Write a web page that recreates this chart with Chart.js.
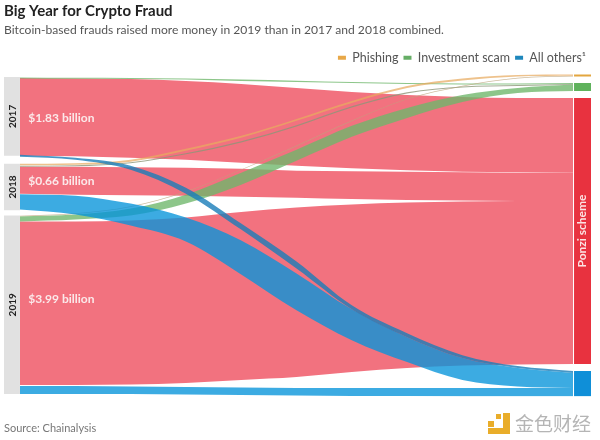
<!DOCTYPE html>
<html><head><meta charset="utf-8">
<style>html,body{margin:0;padding:0;background:#fff}canvas{display:block}</style>
<script src="https://cdn.jsdelivr.net/npm/chart.js@4"></script>
</head><body><canvas id="c" width="600" height="440"></canvas>
<script>
// Flow edges: distance down the diagram at each station across it.
const stations = [0,10,20,30,40,50,60,70,80,90,100];
const ponzi2017Top    = [4,4.5,5,7,10,14,18,21,23,24,24];
const ponzi2017Bottom = [82,82.5,84,86,89,92,94.5,96.5,98,98.5,99];
const ponzi2018Top    = [93,93,93.5,94,95,97,97.5,98,98.5,99,99];
const ponzi2018Bottom = [120,121,121.5,122,123,124,125.5,126.5,127,127.5,127.5];
const ponzi2019Top    = [148,148,147,144,138.5,134,131,129,128,127.5,127.5];
const ponzi2019Bottom = [312,312,311.5,310,307,304,299,295,292.5,291.5,291];
const phishing2018Top    = [90,89.5,86,75,62,45,27,12,4.5,1,0.5];
const phishing2018Bottom = [91.5,91,88,77,64,47,29,14,6.5,2.5,1.8];
const phishing2019Top    = [142.2,139.7,132.7,117.7,95.7,71.7,46.7,24.7,11.7,3.7,1.8];
const phishing2019Bottom = [143,140.4,133.4,118.4,96.4,72.4,47.4,25.4,12.4,4.4,2.5];
const scam2017Top    = [3.5,3.8,4,4.5,5.5,6.7,8,9,9.5,9.5,9];
const scam2017Bottom = [4.5,4.8,5,5.5,7,8,9,10,10.5,10.5,10];
const scam2018Top    = [92,91.4,88.4,79.4,67.4,51.4,32.4,18.4,12.4,10.9,10];
const scam2018Bottom = [93,92.6,89.6,80.6,68.6,52.6,33.6,19.6,13.6,12.1,10.7];
const scam2019Top    = [143,141,135,121,99,76,52,34,21,14,10.5];
const scam2019Bottom = [148,146,142,130,111,87,63,44,28,19,17];
const others2017Top    = [81,84,92,114,150,188,232,260,282,293,298];
const others2017Bottom = [83,86,96,120,156,195,236,264,285,295,300];
const others2018Top    = [120.5,122,130,144,167,200,236,264,285,295,300];
const others2018Bottom = [136,141,152,168,201,237,267,289,307,313.5,315];
const others2019Top    = [313,313,313.5,314,314.5,315,315,315,315,315,315];
const others2019Bottom = [321,321,321,321.5,322,322.5,323,323,323.5,323.5,323.5];

const years = ['2017','2018','2019'];
const yearTotals = ['$1.83 billion','$0.66 billion','$3.99 billion'];
const yearTotalRows = [44,107,226];
const yearNodeTops = [3,90,142];
const yearNodeBottoms = [82,136.7,321];
const typeNames = ['Phishing','Investment scam','All others¹'];
const typeNodeTops = [0.5,9,24,298];
const typeNodeBottoms = [2.5,17,291,323.5];

const PINK='#f2727f', BLUE='rgba(7,148,218,0.79)', SLATE='rgba(25,125,185,0.8)', GREEN='rgba(110,183,107,0.79)', TAN='rgba(232,170,95,0.72)', TANLINE='rgba(190,165,125,0.75)';
const XMIN=-2.89, XMAX=103.25, RIGHT_NODE=100.18;
const pts = ys => ys.map((y,i)=>({x:stations[i],y}));
const datasets=[];
function band(label,top,bottom,color){
  datasets.push({label,data:top,fill:'+1',backgroundColor:color,borderWidth:0,pointRadius:0,cubicInterpolationMode:'monotone'});
  datasets.push({label:label+' edge',data:bottom,fill:false,borderWidth:0,pointRadius:0,cubicInterpolationMode:'monotone'});
}
function node(label,x0,x1,t,b,color){
  band(label,[{x:x0,y:t},{x:x1,y:t}],[{x:x0,y:b},{x:x1,y:b}],color);
}
years.forEach((y,i)=>node('Node '+y,XMIN,0,yearNodeTops[i],yearNodeBottoms[i],'#e1e1e1'));
band('Ponzi 2017',pts(ponzi2017Top),pts(ponzi2017Bottom),PINK);
band('Ponzi 2018',pts(ponzi2018Top),pts(ponzi2018Bottom),PINK);
band('Ponzi 2019',pts(ponzi2019Top),pts(ponzi2019Bottom),PINK);
band('Scam 2017',pts(scam2017Top),pts(scam2017Bottom),GREEN);
band('Scam 2018',pts(scam2018Top),pts(scam2018Bottom),'rgba(140,150,120,0.8)');
band('Phishing 2019',pts(phishing2019Top),pts(phishing2019Bottom),TANLINE);
band('Phishing 2018',pts(phishing2018Top),pts(phishing2018Bottom),TAN);
band('Scam 2019',pts(scam2019Top),pts(scam2019Bottom),GREEN);
band('Others 2018',pts(others2018Top),pts(others2018Bottom),BLUE);
band('Others 2017',pts(others2017Top),pts(others2017Bottom),SLATE);
band('Others 2019',pts(others2019Top),pts(others2019Bottom),BLUE);
const nodeColors=['#e3a63f','#5fb25c','#e8323f','#0f8fd8'];
['Phishing','Investment','Ponzi scheme','Others'].forEach((n,i)=>node('Type '+n,RIGHT_NODE,XMAX,typeNodeTops[i],typeNodeBottoms[i],nodeColors[i]));
const legendColors=['#e8a848','#66ae66','#1e87bc'];
typeNames.forEach((n,i)=>datasets.push({label:n,data:[],backgroundColor:legendColors[i],borderWidth:0,pointRadius:0,fill:false}));
datasets.forEach((d,i)=>d.order=-i);

const notes={id:'notes',afterDraw(ch){
  const {ctx,scales:{x,y}}=ch;
  ctx.save();ctx.textBaseline='middle';
  const rot=(t,px,py,font,col)=>{ctx.save();ctx.translate(px,py);ctx.rotate(-Math.PI/2);ctx.textAlign='center';ctx.font=font;ctx.fillStyle=col;ctx.fillText(t,0,0);ctx.restore();};
  years.forEach((t,i)=>{
    rot(t,x.getPixelForValue(-1.35),y.getPixelForValue((yearNodeTops[i]+yearNodeBottoms[i])/2),'bold 10px Lato','#222');
    ctx.textAlign='left';ctx.font='bold 12px Lato';ctx.fillStyle='#fbe9ea';
    ctx.fillText(yearTotals[i],x.getPixelForValue(1.5),y.getPixelForValue(yearTotalRows[i]));
  });
  rot('Ponzi scheme',x.getPixelForValue((RIGHT_NODE+XMAX)/2),y.getPixelForValue((typeNodeTops[2]+typeNodeBottoms[2])/2),'bold 12px Lato','#fbe3e3');
  ctx.textAlign='left';ctx.font='11px Lato';ctx.fillStyle='#777';
  ctx.fillText('Source: Chainalysis',4,428);
  ctx.fillStyle='#e9ad2a';
  ctx.fillRect(503,413,7,21);ctx.fillRect(488,428,22,6);ctx.fillRect(488,421,6,6);ctx.fillRect(496,414,5,5);
  ctx.font='19px "Noto Sans CJK SC"';ctx.fillStyle='#b5b5b5';
  ctx.fillText('金色财经',515,424);
  ctx.restore();
}};

new Chart(document.getElementById('c'),{
  type:'line',
  data:{datasets},
  plugins:[notes],
  options:{
    responsive:false,animation:false,devicePixelRatio:1,
    layout:{padding:{left:4,right:9,top:0,bottom:43.5}},
    scales:{
      x:{type:'linear',display:false,min:XMIN,max:XMAX},
      y:{type:'linear',display:false,reverse:true,min:0,max:323.5}
    },
    plugins:{
      title:{display:true,text:'Big Year for Crypto Fraud',align:'start',color:'#222',font:{family:'Lato',size:15,weight:'bold'},padding:{top:2,bottom:3}},
      subtitle:{display:true,text:'Bitcoin-based frauds raised more money in 2019 than in 2017 and 2018 combined.',align:'start',color:'#555',font:{family:'Lato',size:12.1,weight:'normal'},padding:{top:0,bottom:9}},
      legend:{display:true,position:'top',align:'end',
        labels:{filter:it=>typeNames.includes(it.text),sort:(a,b)=>typeNames.indexOf(a.text)-typeNames.indexOf(b.text),boxWidth:8,boxHeight:4,padding:5,color:'#555',font:{family:'Lato',size:12.5}}},
      tooltip:{enabled:false}
    }
  }
});
</script></body></html>
